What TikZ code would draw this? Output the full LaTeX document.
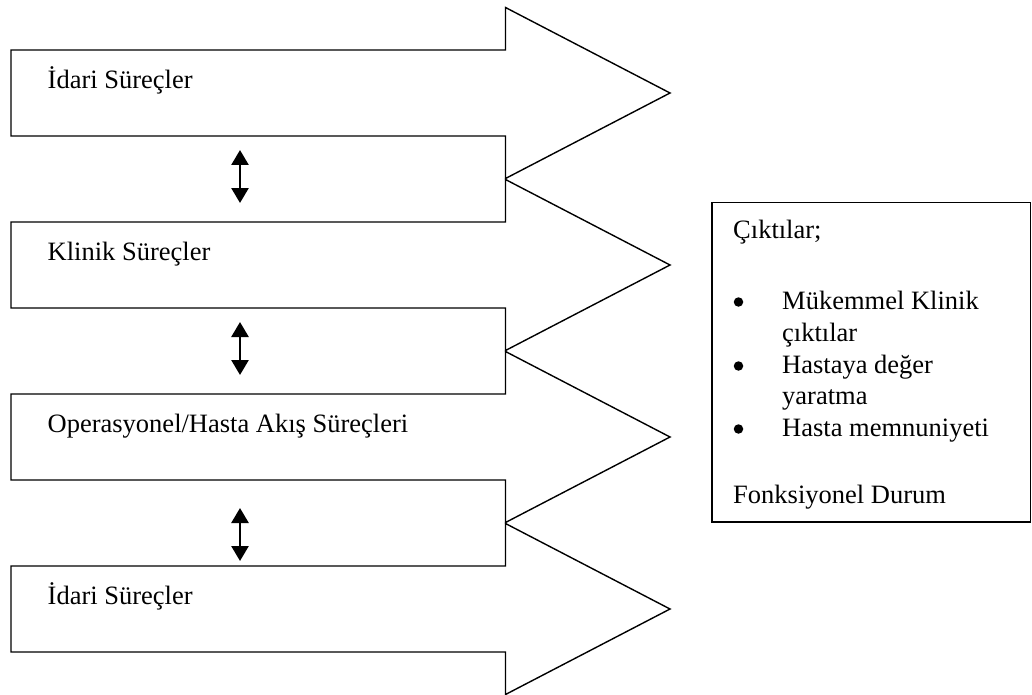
\documentclass[tikz,border=0pt]{standalone}
\usepackage{fontspec}
\setmainfont{Liberation Serif}
\usetikzlibrary{arrows.meta}

\tikzset{
  procarrow/.style={draw=black, line width=1.4pt, line join=miter, fill=white},
  outbox/.style={draw=black, line width=1.4pt},
  label/.style={anchor=base west, inner sep=0pt, font=\fontsize{26.5}{31.8}\selectfont},
  dot/.style={circle, fill=black, inner sep=0pt, minimum size=9.5pt},
  link/.style={line width=2.6pt, {Triangle[width=17pt,length=15pt]}-{Triangle[width=17pt,length=15pt]}}
}

% one process arrow: #1 = centre line y
\newcommand{\procshape}[1]{%
  \draw[procarrow] (11,#1-43) -- (505.5,#1-43) -- (505.5,#1-85.5) -- (670,#1)
    -- (505.5,#1+85.5) -- (505.5,#1+43) -- (11,#1+43) -- cycle;}

\begin{document}
\begin{tikzpicture}[x=1pt,y=-1pt]
  \useasboundingbox (0,0) rectangle (1032,695);

  % process arrows
  \procshape{93}
  \procshape{265}
  \procshape{437}
  \procshape{609}

  \node[label] (p1) at (47.5,88.5) {İdari Süreçler};
  \node[label] (p2) at (47.5,260.5) {Klinik Süreçler};
  \node[label] (p3) at (47.5,432.5) {Operasyonel/Hasta Akış Süreçleri};
  \node[label] (p4) at (47.5,604.5) {İdari Süreçler};

  % links between neighbouring processes
  \coordinate (l1a) at (240,150);  \coordinate (l1b) at (240,203);
  \coordinate (l2a) at (240,322);  \coordinate (l2b) at (240,375);
  \coordinate (l3a) at (240,508);  \coordinate (l3b) at (240,561);
  \draw[link] (l1a) -- (l1b);
  \draw[link] (l2a) -- (l2b);
  \draw[link] (l3a) -- (l3b);

  % outputs box
  \draw[outbox] (712,202.5) rectangle (1030.5,522);
  \node[label] (o0) at (733,238) {Çıktılar;};
  \node[dot] (b1) at (738.5,302) {};
  \node[label] (o1) at (782,309) {Mükemmel Klinik};
  \node[label] (o1b) at (782,341) {çıktılar};
  \node[dot] (b2) at (738.5,366) {};
  \node[label] (o2) at (782,373) {Hastaya değer};
  \node[label] (o2b) at (782,404.5) {yaratma};
  \node[dot] (b3) at (738.5,429) {};
  \node[label] (o3) at (782,436) {Hasta memnuniyeti};
  \node[label] (o4) at (733,503) {Fonksiyonel Durum};
\end{tikzpicture}
\end{document}
